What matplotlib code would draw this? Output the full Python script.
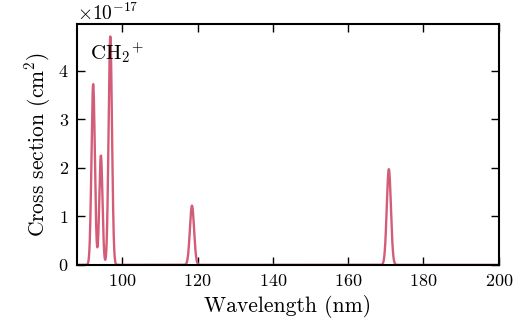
import matplotlib
matplotlib.use("Agg")
import matplotlib.pyplot as plt
import numpy as np

# Raies (centre en nm, hauteur en 1e-17 cm^2, largeur gaussienne en nm)
line_centers = [92.25, 94.3, 96.8, 118.5, 170.8]
line_heights = [3.72, 2.25, 4.70, 1.22, 1.97]
line_widths = [0.45, 0.42, 0.45, 0.55, 0.55]

x_ticks = [100, 120, 140, 160, 180, 200]
y_ticks = [0, 1, 2, 3, 4]

plt.rcParams["font.family"] = "serif"
plt.rcParams["font.serif"] = ["cmr10"]
plt.rcParams["mathtext.fontset"] = "cm"
plt.rcParams["axes.formatter.use_mathtext"] = True

wl = np.linspace(88, 200, 4000)
sigma = np.zeros_like(wl)
for c, h, w in zip(line_centers, line_heights, line_widths):
    sigma += h * np.exp(-0.5 * ((wl - c) / w) ** 2)
sigma *= 1e-17

fig, ax = plt.subplots(figsize=(5.25, 3.25), dpi=100)
fig.subplots_adjust(left=0.147, right=0.95, top=0.925, bottom=0.185)

ax.plot(wl, sigma, color="#d35d78", linewidth=1.7)
ax.set_xlim(88, 200)
ax.set_ylim(0, 4.95e-17)
ax.set_xticks(x_ticks)
ax.set_yticks([v * 1e-17 for v in y_ticks])
ax.tick_params(direction="in", top=True, right=True, length=6, width=1,
               labelsize=13, pad=6)
for s in ax.spines.values():
    s.set_linewidth(1.5)
ax.yaxis.get_offset_text().set_fontsize(14)

ax.set_xlabel("Wavelength (nm)", fontsize=15.5)
ax.set_ylabel(r"Cross section (cm$^2$)", fontsize=15.5)
ax.text(0.03, 0.935, r"$\mathrm{CH}_2{}^{+}$", transform=ax.transAxes,
        fontsize=15, va="top", ha="left")

fig.savefig("out.png", dpi=100)
